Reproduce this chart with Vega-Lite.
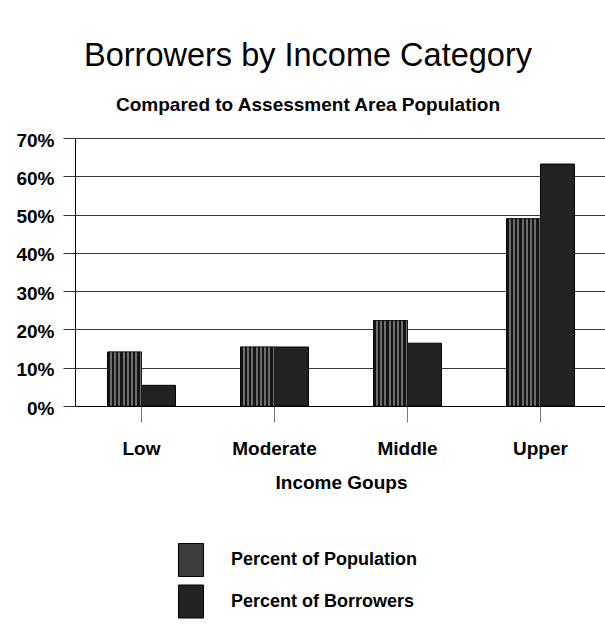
{
  "$schema": "https://vega.github.io/schema/vega-lite/v6.json",
  "width": 532,
  "height": 268,
  "padding": {"left": 15, "top": 39, "right": 0, "bottom": 0},
  "background": "white",
  "title": {
    "text": "Borrowers by Income Category",
    "subtitle": "Compared to Assessment Area Population",
    "anchor": "middle",
    "frame": "group",
    "dx": -33,
    "font": "Liberation Sans",
    "fontSize": 32.5,
    "fontWeight": "normal",
    "color": "black",
    "subtitleFont": "Liberation Sans",
    "subtitleFontSize": 19,
    "subtitleFontWeight": "bold",
    "subtitleColor": "black",
    "subtitlePadding": 24,
    "offset": 16
  },
  "data": {
    "values": [
      {"group": "Low", "series": "Percent of Population", "value": 0.141},
      {"group": "Low", "series": "Percent of Borrowers", "value": 0.054},
      {"group": "Moderate", "series": "Percent of Population", "value": 0.154},
      {"group": "Moderate", "series": "Percent of Borrowers", "value": 0.154},
      {"group": "Middle", "series": "Percent of Population", "value": 0.223},
      {"group": "Middle", "series": "Percent of Borrowers", "value": 0.164},
      {"group": "Upper", "series": "Percent of Population", "value": 0.489},
      {"group": "Upper", "series": "Percent of Borrowers", "value": 0.632}
    ]
  },
  "encoding": {
    "x": {
      "field": "group",
      "type": "nominal",
      "sort": ["Low", "Moderate", "Middle", "Upper"],
      "scale": {"paddingInner": 0.489, "paddingOuter": 0.2445},
      "axis": {
        "title": "Income Goups",
        "labelAngle": 0,
        "labelFont": "Liberation Sans",
        "labelFontSize": 19,
        "labelFontWeight": "bold",
        "labelColor": "black",
        "labelPadding": 17.5,
        "tickSize": 16,
        "tickColor": "#777777",
        "tickWidth": 1,
        "domainColor": "black",
        "domainWidth": 1,
        "titleFont": "Liberation Sans",
        "titleFontSize": 19,
        "titleFontWeight": "bold",
        "titleColor": "black",
        "titlePadding": 15
      }
    },
    "xOffset": {
      "field": "series",
      "type": "nominal",
      "scale": {"domain": ["Percent of Population", "Percent of Borrowers"], "paddingInner": 0, "paddingOuter": 0}
    },
    "y": {
      "field": "value",
      "type": "quantitative",
      "scale": {"domain": [0, 0.7], "nice": false},
      "axis": {
        "title": null,
        "values": [0, 0.1, 0.2, 0.3, 0.4, 0.5, 0.6, 0.7],
        "format": ".0%",
        "labelFont": "Liberation Sans",
        "labelFontSize": 19,
        "labelFontWeight": "bold",
        "labelColor": "black",
        "labelPadding": 9,
        "labelOffset": 2,
        "tickSize": 12,
        "tickColor": "#333333",
        "domainColor": "black",
        "grid": true,
        "gridColor": "#3a3a3a",
        "gridWidth": 1.2
      }
    }
  },
  "layer": [
    {
      "mark": {"type": "bar", "stroke": "black", "strokeWidth": 1},
      "encoding": {
        "color": {
          "field": "series",
          "type": "nominal",
          "scale": {"domain": ["Percent of Population", "Percent of Borrowers"], "range": ["#3c3c3c", "#222222"]},
          "legend": {
            "orient": "none",
            "legendX": 99,
            "legendY": 405,
            "title": null,
            "padding": 0,
            "symbolType": "M-0.76,-1H0.76V1H-0.76Z",
            "symbolSize": 1089,
            "symbolStrokeColor": "black",
            "symbolStrokeWidth": 1,
            "symbolOpacity": 1,
            "rowPadding": 3.5,
            "labelOffset": 23,
            "labelFont": "Liberation Sans",
            "labelFontSize": 18,
            "labelFontWeight": "bold",
            "labelColor": "black",
            "labelLimit": 400
          }
        }
      }
    },
    {
      "transform": [{"filter": "datum.series === 'Percent of Population'"}],
      "mark": {
        "type": "bar",
        "stroke": "black",
        "strokeWidth": 0.5,
        "color": {
          "gradient": "linear", "x1": 0, "y1": 0, "x2": 1, "y2": 0,
          "stops": [
            {"offset": 0, "color": "#151515"}, {"offset": 0.07, "color": "#151515"},
            {"offset": 0.07, "color": "#6e6e6e"}, {"offset": 0.125, "color": "#6e6e6e"},
            {"offset": 0.125, "color": "#151515"}, {"offset": 0.195, "color": "#151515"},
            {"offset": 0.195, "color": "#6e6e6e"}, {"offset": 0.25, "color": "#6e6e6e"},
            {"offset": 0.25, "color": "#151515"}, {"offset": 0.32, "color": "#151515"},
            {"offset": 0.32, "color": "#6e6e6e"}, {"offset": 0.375, "color": "#6e6e6e"},
            {"offset": 0.375, "color": "#151515"}, {"offset": 0.445, "color": "#151515"},
            {"offset": 0.445, "color": "#6e6e6e"}, {"offset": 0.5, "color": "#6e6e6e"},
            {"offset": 0.5, "color": "#151515"}, {"offset": 0.57, "color": "#151515"},
            {"offset": 0.57, "color": "#6e6e6e"}, {"offset": 0.625, "color": "#6e6e6e"},
            {"offset": 0.625, "color": "#151515"}, {"offset": 0.695, "color": "#151515"},
            {"offset": 0.695, "color": "#6e6e6e"}, {"offset": 0.75, "color": "#6e6e6e"},
            {"offset": 0.75, "color": "#151515"}, {"offset": 0.82, "color": "#151515"},
            {"offset": 0.82, "color": "#6e6e6e"}, {"offset": 0.875, "color": "#6e6e6e"},
            {"offset": 0.875, "color": "#151515"}, {"offset": 0.945, "color": "#151515"},
            {"offset": 0.945, "color": "#6e6e6e"}, {"offset": 1, "color": "#6e6e6e"}
          ]
        }
      },
      "encoding": {}
    }
  ],
  "config": {
    "view": {"stroke": null},
    "axis": {"titleFont": "Liberation Sans"}
  }
}
